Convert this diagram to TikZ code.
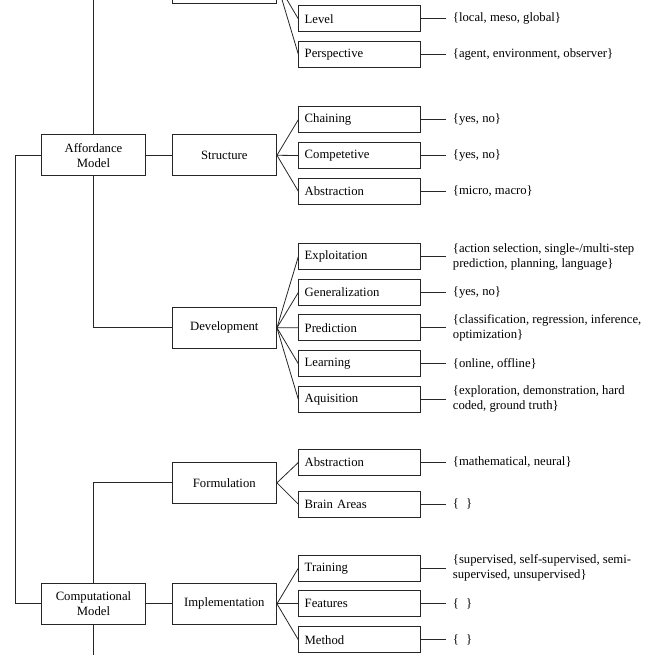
\documentclass[tikz,border=0pt]{standalone}
\usepackage{fontspec}
\setmainfont{Liberation Serif}
\begin{document}
\begin{tikzpicture}[x=1pt,y=-1pt,
  line/.style={draw=black!85, line width=0.8pt},
  bigbox/.style={line, minimum width=104.5pt, minimum height=41pt, inner sep=0pt, align=center, font=\fontsize{12.7}{15}\selectfont},
  smallbox/.style={line, anchor=west, text width=109.7pt, inner xsep=6pt, inner ysep=0pt, minimum height=26pt, align=left, font=\fontsize{12.7}{15}\selectfont},
  valtext/.style={anchor=west, inner xsep=7pt, inner ysep=0pt, align=left, font=\fontsize{12.7}{15}\selectfont}
]
\useasboundingbox (0,0) rectangle (655,655);
\clip (0,0) rectangle (655,655);

% level 1
\node[bigbox] (am) at (93.5,155.3) {Affordance\\Model};
\node[bigbox] (cm) at (93.5,603.8) {Computational\\Model};

% level 2
\node[bigbox] (top) at (224.3,-17.3) {};
\node[bigbox] (struct) at (224.3,155.3) {Structure};
\node[bigbox] (dev) at (224.3,327.8) {Development};
\node[bigbox] (form) at (224.3,482.8) {Formulation};
\node[bigbox] (impl) at (224.3,603.8) {Implementation};

% level 3
\node[smallbox] (level) at (298.3,18.9) {Level};
\node[smallbox] (persp) at (298.3,54.2) {Perspective};
\node[smallbox] (chain) at (298.3,119.7) {Chaining};
\node[smallbox] (compet) at (298.3,155.5) {Competetive};
\node[smallbox] (abstr) at (298.3,191.2) {Abstraction};
\node[smallbox] (expl) at (298.3,256.7) {Exploitation};
\node[smallbox] (gen) at (298.3,292.5) {Generalization};
\node[smallbox] (pred) at (298.3,327.7) {Prediction};
\node[smallbox] (learn) at (298.3,363.7) {Learning};
\node[smallbox] (aqui) at (298.3,399.3) {Aquisition};
\node[smallbox] (abstrb) at (298.3,462.5) {Abstraction};
\node[smallbox] (brain) at (298.3,504.2) {Brain Areas};
\node[smallbox] (train) at (298.3,568.2) {Training};
\node[smallbox] (feat) at (298.3,603.8) {Features};
\node[smallbox] (meth) at (298.3,639.7) {Method};

% values
\node[valtext] (vlevel) at (445.7,18.9) {\{local, meso, global\}};
\node[valtext] (vpersp) at (445.7,54.2) {\{agent, environment, observer\}};
\node[valtext] (vchain) at (445.7,119.7) {\{yes, no\}};
\node[valtext] (vcompet) at (445.7,155.5) {\{yes, no\}};
\node[valtext] (vabstr) at (445.7,191.2) {\{micro, macro\}};
\node[valtext] (vexpl) at (445.7,256.7) {\{action selection, single-/multi-step\\prediction, planning, language\}};
\node[valtext] (vgen) at (445.7,292.5) {\{yes, no\}};
\node[valtext] (vpred) at (445.7,327.7) {\{classification, regression, inference,\\optimization\}};
\node[valtext] (vlearn) at (445.7,363.7) {\{online, offline\}};
\node[valtext] (vaqui) at (445.7,399.3) {\{exploration, demonstration, hard\\coded, ground truth\}};
\node[valtext] (vabstrb) at (445.7,462.5) {\{mathematical, neural\}};
\node[valtext] (vbrain) at (445.7,504.2) {\{\hspace{7pt}\}};
\node[valtext] (vtrain) at (445.7,568.2) {\{supervised, self-supervised, semi-\\supervised, unsupervised\}};
\node[valtext] (vfeat) at (445.7,603.8) {\{\hspace{7pt}\}};
\node[valtext] (vmeth) at (445.7,639.7) {\{\hspace{7pt}\}};

\coordinate (cmend) at (93.5,660);

% tree connectors
\draw[line] (am.west) -- ++(-25.8,0) |- (cm.west);
\draw[line] (am.north) |- (top.west);
\draw[line] (am.east) -- (struct.west);
\draw[line] (am.south) |- (dev.west);
\draw[line] (cm.north) |- (form.west);
\draw[line] (cm.east) -- (impl.west);
\draw[line] (cm.south) -- (cmend);

\foreach \p/\c in {top/level, top/persp, struct/chain, struct/compet, struct/abstr,
  dev/expl, dev/gen, dev/pred, dev/learn, dev/aqui, form/abstrb, form/brain,
  impl/train, impl/feat, impl/meth}
  \draw[line] (\p.east) -- (\c.west);

\foreach \c in {level, persp, chain, compet, abstr, expl, gen, pred, learn, aqui,
  abstrb, brain, train, feat, meth}
  \draw[line] (\c.east) -- (v\c.west);
\end{tikzpicture}
\end{document}
